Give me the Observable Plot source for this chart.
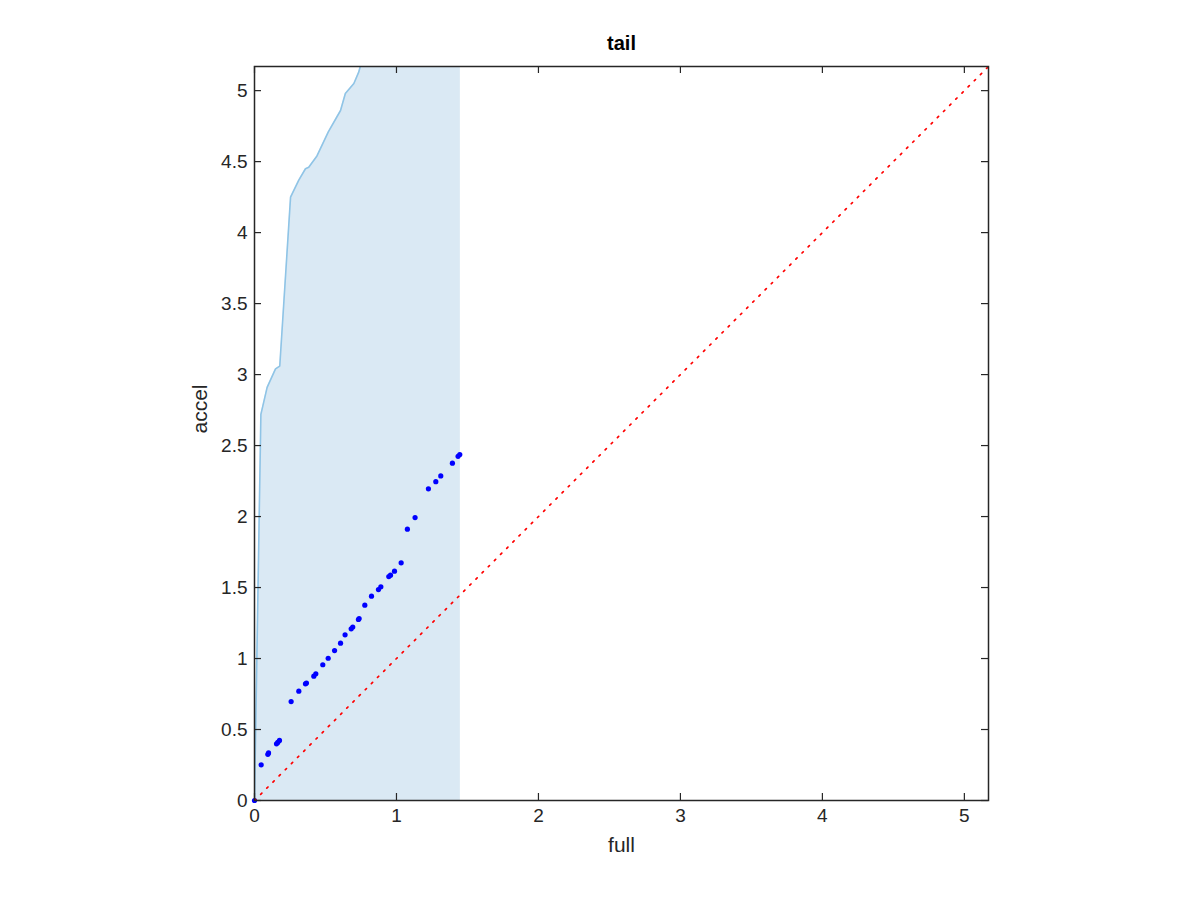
<!DOCTYPE html>
<html>
<head>
<meta charset="utf-8">
<script src="https://cdn.jsdelivr.net/npm/d3@7"></script>
<script src="https://cdn.jsdelivr.net/npm/@observablehq/plot@0.6"></script>
<style>
  html, body { margin: 0; padding: 0; background: #fff; }
  #chart { width: 1200px; height: 900px; }
</style>
</head>
<body>
<div id="chart"></div>
<script>
// ---- data ----
const title = "tail";
const xLabel = "full";
const yLabel = "accel";
const xTicks = [0, 1, 2, 3, 4, 5];
const yTicks = [0, 0.5, 1, 1.5, 2, 2.5, 3, 3.5, 4, 4.5, 5];
const axisMax = 5.17;

// upper boundary of shaded band (visible part)
const boundX = [0, 0.045, 0.089, 0.148, 0.178, 0.254, 0.312, 0.359, 0.382, 0.44, 0.52, 0.606, 0.64, 0.70, 0.734, 0.745];
const boundY = [0, 2.72, 2.91, 3.04, 3.06, 4.25, 4.37, 4.45, 4.46, 4.54, 4.71, 4.86, 4.98, 5.05, 5.13, 5.17];
const shadeRight = 1.45;

// scatter points (full, accel)
const ptX = [0, 0.047, 0.094, 0.099, 0.155, 0.164, 0.176, 0.258, 0.312, 0.359, 0.366, 0.418, 0.432, 0.481, 0.519, 0.564,
             0.606, 0.638, 0.681, 0.692, 0.732, 0.737, 0.777, 0.824, 0.873, 0.890, 0.946, 0.958, 0.986, 1.033,
             1.077, 1.131, 1.225, 1.277, 1.312, 1.394, 1.434, 1.446];
const ptY = [0, 0.251, 0.325, 0.335, 0.399, 0.409, 0.423, 0.697, 0.770, 0.822, 0.827, 0.876, 0.892, 0.956, 1.002, 1.056,
             1.108, 1.167, 1.209, 1.222, 1.275, 1.282, 1.376, 1.439, 1.486, 1.505, 1.577, 1.587, 1.615, 1.674,
             1.911, 1.993, 2.195, 2.246, 2.286, 2.376, 2.424, 2.437];

const diag = [0, axisMax];

// ---- build tables ----
const boundary = boundX.map((x, i) => ({x, y: boundY[i]}));
const areaData = boundary.concat([{x: shadeRight, y: axisMax}]);
const points = ptX.map((x, i) => ({x, y: ptY[i]}));

const ink = "#262626";
const frameW = 1200 - 254 - 212;
const frameH = 900 - 66 - 100;
const tickLen = 7;
const fmt = d => String(d);

const chart = Plot.plot({
  width: 1200,
  height: 900,
  marginLeft: 254,
  marginRight: 212,
  marginTop: 66,
  marginBottom: 100,
  style: {fontFamily: "'Liberation Sans', Arial, Helvetica, sans-serif", fontSize: "19px", color: ink, background: "#fff"},
  x: {domain: [0, axisMax]},
  y: {domain: [0, axisMax]},
  marks: [
    Plot.areaY(areaData, {x: "x", y: "y", fill: "#dae9f4", clip: true}),
    Plot.line(boundary, {x: "x", y: "y", stroke: "#8fc4e6", strokeWidth: 1.6, clip: true}),
    Plot.dot(points, {x: "x", y: "y", r: 2.6, fill: "#0000ff", stroke: "none"}),
    Plot.line(diag, {x: d => d, y: d => d, stroke: "#ff0000", strokeWidth: 1.7, strokeDasharray: "1.7,7", clip: true}),
    Plot.frame({stroke: ink, strokeWidth: 1.5}),
    Plot.tickX(xTicks, {x: d => d, insetTop: frameH - tickLen, stroke: ink, strokeWidth: 1.2}),
    Plot.tickX(xTicks, {x: d => d, insetBottom: frameH - tickLen, stroke: ink, strokeWidth: 1.2}),
    Plot.tickY(yTicks, {y: d => d, insetRight: frameW - tickLen, stroke: ink, strokeWidth: 1.2}),
    Plot.tickY(yTicks, {y: d => d, insetLeft: frameW - tickLen, stroke: ink, strokeWidth: 1.2}),
    Plot.axisX(xTicks, {tickSize: 0, tickPadding: 8, label: null, fill: ink, fontSize: 19, tickFormat: fmt}),
    Plot.axisY(yTicks, {tickSize: 0, tickPadding: 7, label: null, fill: ink, fontSize: 19, tickFormat: fmt}),
    Plot.text([title], {text: d => d, frameAnchor: "top", dy: -23, fontWeight: "bold", fontSize: 20, fill: "#000", lineAnchor: "middle"}),
    Plot.text([xLabel], {text: d => d, frameAnchor: "bottom", dy: 45, fontSize: 21, fill: ink, lineAnchor: "middle"}),
    Plot.text([yLabel], {text: d => d, frameAnchor: "left", dx: -54, rotate: -90, fontSize: 21, fill: ink, lineAnchor: "middle"})
  ]
});
document.getElementById("chart").appendChild(chart);
</script>
</body>
</html>
